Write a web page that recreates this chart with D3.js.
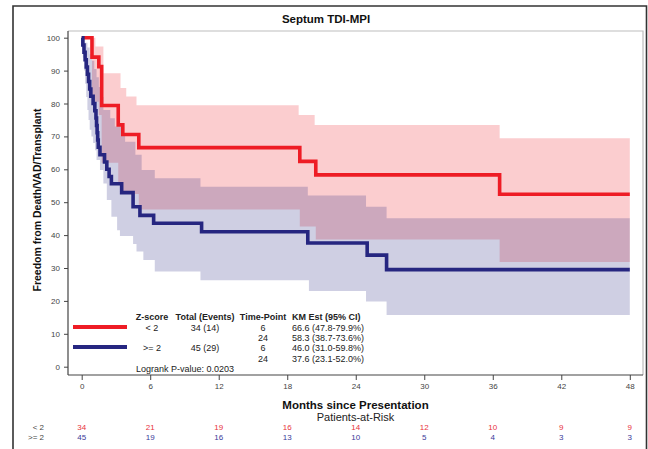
<!DOCTYPE html>
<html><head><meta charset="utf-8">
<script src="https://cdn.jsdelivr.net/npm/d3@7"></script>
<style>
html,body{margin:0;padding:0;background:#fff;}
svg{display:block;font-family:"Liberation Sans",Arial,sans-serif;}
</style></head>
<body><svg id="c" width="648" height="449"></svg>
<script>
// ---------- data ----------
const title = "Septum TDI-MPI";
const xTicks = [0, 6, 12, 18, 24, 30, 36, 42, 48];
const yTicks = [0, 10, 20, 30, 40, 50, 60, 70, 80, 90, 100];
const groups = ["< 2", ">= 2"];

// KM step curves (time in months, survival %)
const redT = [0, 0.9, 1.5, 1.75, 3.2, 3.6, 5.0, 19.1, 20.5, 36.6, 48];
const redS = [100, 94.1, 91.2, 79.4, 73.5, 70.6, 66.6, 62.4, 58.3, 52.4, 52.4];
const redUpT = [0, 1.2, 1.9, 3.4, 3.9, 4.8, 19.0, 20.4, 36.6, 48];
const redUp = [100, 97.3, 89.2, 84.7, 82.1, 79.5, 76.5, 73.5, 69.4, 69.4];
const redLoT = [0, 0.9, 1.5, 1.75, 3.2, 3.6, 5.0, 19.1, 20.5, 36.6, 48];
const redLo = [100, 80.5, 76.5, 62.0, 56.0, 52.5, 47.8, 42.6, 38.7, 31.8, 31.8];

const blueT = [0, 0.1, 0.2, 0.3, 0.4, 0.5, 0.6, 0.7, 0.8, 1.0, 1.15, 1.25, 1.3, 1.35, 1.4, 1.45, 1.6, 2.0, 2.2, 2.4, 2.6, 3.5, 4.5, 5.1, 6.3, 10.5, 19.8, 25.0, 26.7, 48];
const blueS = [100, 97.8, 95.6, 93.3, 91.1, 88.9, 86.7, 84.4, 82.2, 80.0, 77.8, 75.6, 73.3, 71.1, 68.9, 66.7, 64.4, 62.2, 60.0, 57.8, 55.6, 52.9, 48.6, 46.0, 43.6, 41.0, 37.6, 33.9, 29.5, 29.5];
const blueUpT = [0, 0.3, 0.5, 0.7, 0.9, 1.1, 1.3, 1.5, 1.7, 1.9, 2.5, 2.9, 3.5, 3.8, 4.7, 5.25, 6.4, 10.4, 19.8, 24.9, 26.7, 48];
const blueUp = [100, 98.5, 97, 95, 93, 90.5, 88, 85, 82, 78, 75.5, 73, 70.5, 68.4, 64.4, 59.8, 57.3, 54.7, 52.0, 48.6, 45.1, 45.1];
const blueLoT = [0, 0.1, 0.2, 0.3, 0.4, 0.5, 0.6, 0.7, 0.85, 1.0, 1.17, 1.3, 1.6, 1.9, 2.2, 2.6, 3.1, 3.35, 4.5, 4.8, 5.4, 6.4, 10.4, 19.9, 24.9, 26.7, 48];
const blueLo = [100, 94, 90, 86, 82, 78, 75, 72, 70, 68, 65.8, 62.8, 59.8, 55.7, 50.7, 45.6, 41.5, 39.7, 37.3, 35.0, 32.4, 28.9, 26.3, 23.0, 19.8, 15.7, 15.7];

// numbers at risk
const riskRed = [34, 21, 19, 16, 14, 12, 10, 9, 9];
const riskBlue = [45, 19, 16, 13, 10, 5, 4, 3, 3];

// inset legend table
const legHeaders = ["Z-score", "Total (Events)", "Time-Point", "KM Est (95% CI)"];
const legZ = ["< 2", "", ">= 2", ""];
const legTotal = ["34 (14)", "", "45 (29)", ""];
const legTime = ["6", "24", "6", "24"];
const legKM = ["66.6 (47.8-79.9%)", "58.3 (38.7-73.6%)", "46.0 (31.0-59.8%)", "37.6 (23.1-52.0%)"];
const logrank = "Logrank P-value: 0.0203";

// ---------- drawing ----------
const RED = "#ee1c25", BLUE = "#262680";
const RED_T = "#e8323c", BLUE_T = "#3a3a9a";
const svg = d3.select("#c");
const L = 68, R = 643, T = 31, B = 375;
const x = d3.scaleLinear().domain([0, 48]).range([81.7, 629.8]);
const y = d3.scaleLinear().domain([0, 100]).range([366.7, 37.7]);

// outer frame
svg.append("path").attr("d", "M13,449V6H646.5V449").attr("fill", "none")
  .attr("stroke", "#333").attr("stroke-width", 1.6);

// plot frame (light)
svg.append("path").attr("d", `M${L},${T}H${R}V${B}`).attr("fill", "none")
  .attr("stroke", "#bdbdbd").attr("stroke-width", 1.2);

function stepFn(ts, vs) {
  return t => vs[Math.max(0, d3.bisectRight(ts, t) - 1)];
}
function band(tU, vU, tL, vL) {
  const times = Array.from(new Set([...tU, ...tL])).sort((a, b) => a - b);
  const fu = stepFn(tU, vU), fl = stepFn(tL, vL);
  return times.map(t => ({t, hi: fu(t), lo: fl(t)}));
}
const area = d3.area().x(d => x(d.t)).y0(d => y(d.lo)).y1(d => y(d.hi)).curve(d3.curveStepAfter);
const g = svg.append("g");
g.append("path").datum(band(redUpT, redUp, redLoT, redLo)).attr("d", area)
  .attr("fill", "rgb(237,28,36)").attr("fill-opacity", 0.22);
g.append("path").datum(band(blueUpT, blueUp, blueLoT, blueLo)).attr("d", area)
  .attr("fill", "rgb(38,38,128)").attr("fill-opacity", 0.22);

const line = d3.line().x(d => x(d[0])).y(d => y(d[1])).curve(d3.curveStepAfter);
g.append("path").datum(d3.zip(redT, redS)).attr("d", line).attr("fill", "none")
  .attr("stroke", RED).attr("stroke-width", 3.6);
g.append("path").datum(d3.zip(blueT, blueS)).attr("d", line).attr("fill", "none")
  .attr("stroke", BLUE).attr("stroke-width", 3.6);

// axes
const ax = svg.append("g").attr("transform", `translate(0,${B})`)
  .call(d3.axisBottom(x).tickValues(xTicks).tickSize(5).tickPadding(3));
ax.select(".domain").attr("d", `M${L},0H${R}`);
const ay = svg.append("g").attr("transform", `translate(${L},0)`)
  .call(d3.axisLeft(y).tickValues(yTicks).tickSize(4).tickPadding(4));
ay.select(".domain").attr("d", `M0,${T}V${B}`);
[ax, ay].forEach(a => {
  a.select(".domain").attr("stroke", "#444").attr("stroke-width", 1.2);
  a.selectAll(".tick line").attr("stroke", "#444");
  a.selectAll(".tick text").attr("fill", "#444").attr("font-size", 8)
    .attr("font-family", "'Liberation Sans',Arial,sans-serif");
});

// titles
svg.append("text").attr("x", 326).attr("y", 23).attr("text-anchor", "middle")
  .attr("font-size", 11.5).attr("font-weight", "bold").attr("fill", "#111").text(title);
svg.append("text").attr("transform", "translate(41,200) rotate(-90)").attr("text-anchor", "middle")
  .attr("font-size", 10.5).attr("font-weight", "bold").attr("fill", "#111")
  .text("Freedom from Death/VAD/Transplant");
svg.append("text").attr("x", 355.5).attr("y", 409).attr("text-anchor", "middle")
  .attr("font-size", 11.5).attr("font-weight", "bold").attr("fill", "#111")
  .text("Months since Presentation");
svg.append("text").attr("x", 355.5).attr("y", 420.5).attr("text-anchor", "middle")
  .attr("font-size", 11).attr("fill", "#222").text("Patients-at-Risk");

// risk table
const risk = svg.append("g").attr("font-size", 8);
[[riskRed, RED_T, 429.5], [riskBlue, BLUE_T, 440]].forEach(([vals, col, yy], i) => {
  risk.append("text").attr("x", 44).attr("y", yy).attr("text-anchor", "end")
    .attr("fill", "#444").text(groups[i]);
  risk.selectAll(null).data(vals).enter().append("text")
    .attr("x", (d, j) => x(xTicks[j])).attr("y", yy).attr("text-anchor", "middle")
    .attr("fill", col).text(d => d);
});

// inset legend
const leg = svg.append("g").attr("font-size", 9).attr("fill", "#222");
const colX = [152, 205, 263, 292];
legHeaders.forEach((h, i) => {
  leg.append("text").attr("x", colX[i]).attr("y", 320)
    .attr("text-anchor", i === 3 ? "start" : "middle").attr("font-weight", "bold").text(h);
});
const rowY = [330.5, 341, 351, 361.5];
rowY.forEach((yy, r) => {
  [legZ[r], legTotal[r], legTime[r], legKM[r]].forEach((v, i) => {
    if (!v) return;
    leg.append("text").attr("x", colX[i]).attr("y", yy)
      .attr("text-anchor", i === 3 ? "start" : "middle").text(v);
  });
});
leg.append("text").attr("x", 136).attr("y", 371.5).text(logrank);
svg.append("line").attr("x1", 73).attr("x2", 127).attr("y1", 327).attr("y2", 327)
  .attr("stroke", RED).attr("stroke-width", 4);
svg.append("line").attr("x1", 73).attr("x2", 127).attr("y1", 347).attr("y2", 347)
  .attr("stroke", BLUE).attr("stroke-width", 4);
</script></body></html>
